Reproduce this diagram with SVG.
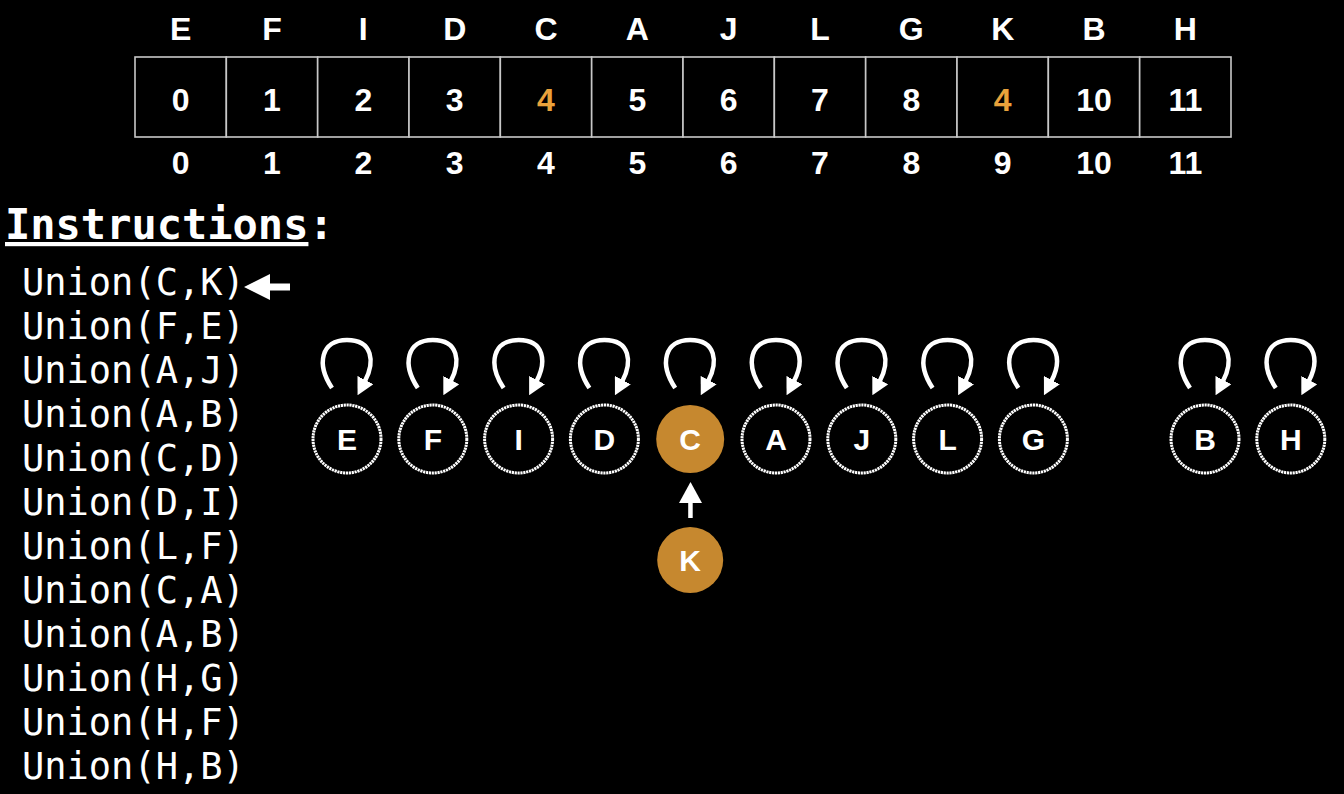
<svg xmlns="http://www.w3.org/2000/svg" width="1344" height="794" viewBox="0 0 1344 794">
<defs>
<style>
.bg{fill:#000}
.cell{fill:#000;stroke:#c8c8c8;stroke-width:1.6}
.t{font-family:"Liberation Sans",Arial,sans-serif;font-weight:bold;font-size:32px;fill:#fff;text-anchor:middle}
.or{fill:#e9a23b}
.ins{font-family:"DejaVu Sans Mono",monospace;font-size:37px;fill:#fff}
.hd{font-family:"DejaVu Sans Mono",monospace;font-size:42px;font-weight:bold;fill:#fff}
.node{fill:#000;stroke:#fff;stroke-width:3;stroke-dasharray:2.2 0.7}
.nodeo{fill:#c6882f}
.nl{font-family:"Liberation Sans",Arial,sans-serif;font-weight:bold;font-size:30px;fill:#fff;text-anchor:middle}
.loop{fill:none;stroke:#fff;stroke-width:4.5;stroke-linecap:butt}
</style>
<marker id="ah" viewBox="0 0 17 18" refX="1" refY="9" markerWidth="17" markerHeight="18" markerUnits="userSpaceOnUse" orient="auto">
<path d="M0,0 L17,9 L0,18 z" fill="#fff"/>
</marker>
</defs>
<rect class="bg" x="0" y="0" width="1344" height="794"/>

<g id="array">
<g id="labels-top">
<text class="t" x="180.7" y="40">E</text>
<text class="t" x="272" y="40">F</text>
<text class="t" x="363.3" y="40">I</text>
<text class="t" x="454.7" y="40">D</text>
<text class="t" x="546" y="40">C</text>
<text class="t" x="637.3" y="40">A</text>
<text class="t" x="728.7" y="40">J</text>
<text class="t" x="820" y="40">L</text>
<text class="t" x="911.3" y="40">G</text>
<text class="t" x="1002.7" y="40">K</text>
<text class="t" x="1094" y="40">B</text>
<text class="t" x="1185.3" y="40">H</text>
</g>
<g id="cells">
<rect class="cell" x="135" y="57" width="91.33" height="80"/>
<rect class="cell" x="226.33" y="57" width="91.33" height="80"/>
<rect class="cell" x="317.67" y="57" width="91.33" height="80"/>
<rect class="cell" x="409" y="57" width="91.33" height="80"/>
<rect class="cell" x="500.33" y="57" width="91.33" height="80"/>
<rect class="cell" x="591.67" y="57" width="91.33" height="80"/>
<rect class="cell" x="683" y="57" width="91.33" height="80"/>
<rect class="cell" x="774.33" y="57" width="91.33" height="80"/>
<rect class="cell" x="865.67" y="57" width="91.33" height="80"/>
<rect class="cell" x="957" y="57" width="91.33" height="80"/>
<rect class="cell" x="1048.33" y="57" width="91.33" height="80"/>
<rect class="cell" x="1139.67" y="57" width="91.33" height="80"/>
</g>
<g id="values">
<text class="t" x="180.7" y="111">0</text>
<text class="t" x="272" y="111">1</text>
<text class="t" x="363.3" y="111">2</text>
<text class="t" x="454.7" y="111">3</text>
<text class="t or" x="546" y="111">4</text>
<text class="t" x="637.3" y="111">5</text>
<text class="t" x="728.7" y="111">6</text>
<text class="t" x="820" y="111">7</text>
<text class="t" x="911.3" y="111">8</text>
<text class="t or" x="1002.7" y="111">4</text>
<text class="t" x="1094" y="111">10</text>
<text class="t" x="1185.3" y="111">11</text>
</g>
<g id="indices">
<text class="t" x="180.7" y="174">0</text>
<text class="t" x="272" y="174">1</text>
<text class="t" x="363.3" y="174">2</text>
<text class="t" x="454.7" y="174">3</text>
<text class="t" x="546" y="174">4</text>
<text class="t" x="637.3" y="174">5</text>
<text class="t" x="728.7" y="174">6</text>
<text class="t" x="820" y="174">7</text>
<text class="t" x="911.3" y="174">8</text>
<text class="t" x="1002.7" y="174">9</text>
<text class="t" x="1094" y="174">10</text>
<text class="t" x="1185.3" y="174">11</text>
</g>
</g>

<g id="instructions">
<text class="hd" x="5" y="239"><tspan text-decoration="underline">Instructions</tspan>:</text>
<text class="ins" x="22" y="295">Union(C,K)</text>
<text class="ins" x="22" y="339">Union(F,E)</text>
<text class="ins" x="22" y="383">Union(A,J)</text>
<text class="ins" x="22" y="427">Union(A,B)</text>
<text class="ins" x="22" y="471">Union(C,D)</text>
<text class="ins" x="22" y="515">Union(D,I)</text>
<text class="ins" x="22" y="559">Union(L,F)</text>
<text class="ins" x="22" y="603">Union(C,A)</text>
<text class="ins" x="22" y="647">Union(A,B)</text>
<text class="ins" x="22" y="691">Union(H,G)</text>
<text class="ins" x="22" y="735">Union(H,F)</text>
<text class="ins" x="22" y="779">Union(H,B)</text>
</g>

<g id="connectors">
<g id="pointer">
<rect x="268" y="283.5" width="22" height="7" fill="#fff"/>
<polygon points="244,287 270,274 270,300" fill="#fff"/>
</g>
<g id="loops">
<path class="loop" marker-end="url(#ah)" d="M332,388 C316,364 321,340 347,340 C373,340 375,362 365,381"/>
<path class="loop" marker-end="url(#ah)" d="M417.8,388 C401.8,364 406.8,340 432.8,340 C458.8,340 460.8,362 450.8,381"/>
<path class="loop" marker-end="url(#ah)" d="M503.6,388 C487.6,364 492.6,340 518.6,340 C544.6,340 546.6,362 536.6,381"/>
<path class="loop" marker-end="url(#ah)" d="M589.4,388 C573.4,364 578.4,340 604.4,340 C630.4,340 632.4,362 622.4,381"/>
<path class="loop" marker-end="url(#ah)" d="M675.2,388 C659.2,364 664.2,340 690.2,340 C716.2,340 718.2,362 708.2,381"/>
<path class="loop" marker-end="url(#ah)" d="M761,388 C745,364 750,340 776,340 C802,340 804,362 794,381"/>
<path class="loop" marker-end="url(#ah)" d="M846.8,388 C830.8,364 835.8,340 861.8,340 C887.8,340 889.8,362 879.8,381"/>
<path class="loop" marker-end="url(#ah)" d="M932.6,388 C916.6,364 921.6,340 947.6,340 C973.6,340 975.6,362 965.6,381"/>
<path class="loop" marker-end="url(#ah)" d="M1018.4,388 C1002.4,364 1007.4,340 1033.4,340 C1059.4,340 1061.4,362 1051.4,381"/>
<path class="loop" marker-end="url(#ah)" d="M1190,388 C1174,364 1179,340 1205,340 C1231,340 1233,362 1223,381"/>
<path class="loop" marker-end="url(#ah)" d="M1275.8,388 C1259.8,364 1264.8,340 1290.8,340 C1316.8,340 1318.8,362 1308.8,381"/>
</g>
<g id="k-to-c">
<rect x="688.2" y="501" width="4.5" height="17" fill="#fff"/>
<polygon points="690.5,482 702,503 679,503" fill="#fff"/>
</g>
</g>

<g id="node-E"><circle class="node" cx="347" cy="439" r="34"/><text class="nl" x="347" y="450">E</text></g>
<g id="node-F"><circle class="node" cx="432.8" cy="439" r="34"/><text class="nl" x="432.8" y="450">F</text></g>
<g id="node-I"><circle class="node" cx="518.6" cy="439" r="34"/><text class="nl" x="518.6" y="450">I</text></g>
<g id="node-D"><circle class="node" cx="604.4" cy="439" r="34"/><text class="nl" x="604.4" y="450">D</text></g>
<g id="node-C"><circle class="nodeo" cx="690.2" cy="439" r="34"/><text class="nl" x="690.2" y="450">C</text></g>
<g id="node-A"><circle class="node" cx="776" cy="439" r="34"/><text class="nl" x="776" y="450">A</text></g>
<g id="node-J"><circle class="node" cx="861.8" cy="439" r="34"/><text class="nl" x="861.8" y="450">J</text></g>
<g id="node-L"><circle class="node" cx="947.6" cy="439" r="34"/><text class="nl" x="947.6" y="450">L</text></g>
<g id="node-G"><circle class="node" cx="1033.4" cy="439" r="34"/><text class="nl" x="1033.4" y="450">G</text></g>
<g id="node-B"><circle class="node" cx="1205" cy="439" r="34"/><text class="nl" x="1205" y="450">B</text></g>
<g id="node-H"><circle class="node" cx="1290.8" cy="439" r="34"/><text class="nl" x="1290.8" y="450">H</text></g>
<g id="node-K"><circle class="nodeo" cx="690.2" cy="560" r="33"/><text class="nl" x="690.2" y="571">K</text></g>
</svg>
